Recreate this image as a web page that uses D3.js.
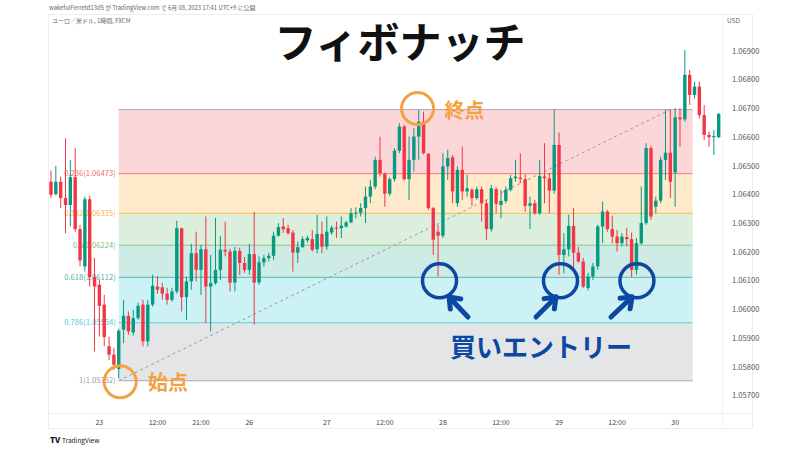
<!DOCTYPE html>
<html>
<head>
<meta charset="utf-8">
<script src="https://cdn.jsdelivr.net/npm/d3@7"></script>
<style>
  body { margin: 0; background: #fff; }
  svg { display: block; font-family: "Noto Sans CJK JP", "Noto Sans", sans-serif; }
</style>
</head>
<body>
<svg width="800" height="450"></svg>
<script>
// EUR/USD 1h candles
const opens = [1.06445,1.06402,1.06445,1.06388,1.06364,1.06461,1.06280,1.06150,1.06384,1.06113,
  1.06086,1.06017,1.05872,1.05843,1.05793,1.05930,1.05978,1.05920,1.05970,1.06017,
  1.05889,1.06017,1.06080,1.06077,1.06055,1.06034,1.06063,1.06283,1.06043,1.06098,
  1.06196,1.06138,1.06210,1.06080,1.06092,1.06138,1.06208,1.06202,1.06094,1.06204,
  1.06162,1.06138,1.06193,1.06094,1.06164,1.06179,1.06187,1.06257,1.06289,1.06283,
  1.06268,1.06198,1.06217,1.06241,1.06245,1.06210,1.06263,1.06219,1.06268,1.06285,
  1.06283,1.06289,1.06303,1.06335,1.06337,1.06353,1.06393,1.06428,1.06521,1.06472,
  1.06403,1.06454,1.06553,1.06637,1.06454,1.06521,1.06602,1.06654,1.06542,1.06353,
  1.06271,1.06257,1.06498,1.06530,1.06370,1.06486,1.06411,1.06417,1.06388,1.06419,
  1.06370,1.06280,1.06419,1.06364,1.06378,1.06417,1.06457,1.06459,1.06454,1.06361,
  1.06370,1.06335,1.06463,1.06457,1.06414,1.06573,1.06190,1.06210,1.06291,1.06198,
  1.06167,1.06075,1.06115,1.06150,1.06289,1.06341,1.06280,1.06254,1.06231,1.06252,
  1.06245,1.06138,1.06231,1.06301,1.06562,1.06358,1.06379,1.06521,1.06546,1.06477,
  1.06669,1.06662,1.06817,1.06747,1.06776,1.06677,1.06608,1.06600,1.06600];
const highs = [1.06484,1.06500,1.06463,1.06596,1.06521,1.06562,1.06295,1.06393,1.06396,1.06179,
  1.06103,1.06051,1.05906,1.05867,1.05933,1.06034,1.05993,1.05999,1.06024,1.06034,
  1.06034,1.06121,1.06117,1.06093,1.06076,1.06076,1.06309,1.06285,1.06115,1.06229,
  1.06271,1.06225,1.06324,1.06190,1.06319,1.06257,1.06306,1.06211,1.06218,1.06215,
  1.06183,1.06229,1.06340,1.06185,1.06190,1.06197,1.06271,1.06301,1.06319,1.06295,
  1.06277,1.06237,1.06254,1.06257,1.06277,1.06330,1.06306,1.06324,1.06292,1.06306,
  1.06324,1.06309,1.06353,1.06356,1.06370,1.06428,1.06451,1.06532,1.06602,1.06477,
  1.06461,1.06562,1.06649,1.06643,1.06602,1.06631,1.06695,1.06689,1.06545,1.06358,
  1.06295,1.06544,1.06556,1.06538,1.06498,1.06567,1.06469,1.06422,1.06428,1.06428,
  1.06382,1.06434,1.06426,1.06417,1.06428,1.06469,1.06521,1.06544,1.06472,1.06393,
  1.06382,1.06521,1.06579,1.06475,1.06697,1.06616,1.06266,1.06330,1.06353,1.06218,
  1.06180,1.06128,1.06162,1.06295,1.06376,1.06347,1.06326,1.06277,1.06266,1.06283,
  1.06268,1.06249,1.06428,1.06579,1.06570,1.06393,1.06532,1.06695,1.06695,1.06701,
  1.06701,1.06903,1.06834,1.06793,1.06793,1.06712,1.06619,1.06625,1.06684];
const lows = [1.06388,1.06397,1.06353,1.06266,1.06289,1.06271,1.06150,1.06132,1.06080,1.05854,
  1.05906,1.05872,1.05825,1.05790,1.05760,1.05883,1.05912,1.05909,1.05964,1.05872,
  1.05872,1.06010,1.06055,1.06034,1.06017,1.06027,1.06055,1.05993,1.05964,1.06069,
  1.06098,1.06051,1.05953,1.05924,1.06086,1.06103,1.06185,1.06063,1.06063,1.06121,
  1.06128,1.06121,1.05947,1.06086,1.06149,1.06168,1.06173,1.06254,1.06267,1.06260,
  1.06132,1.06162,1.06215,1.06233,1.06201,1.06196,1.06196,1.06208,1.06260,1.06249,
  1.06249,1.06285,1.06301,1.06318,1.06324,1.06301,1.06370,1.06419,1.06463,1.06358,
  1.06396,1.06445,1.06544,1.06449,1.06382,1.06480,1.06521,1.06540,1.06347,1.06190,
  1.06115,1.06249,1.06451,1.06370,1.06358,1.06382,1.06393,1.06361,1.06382,1.06306,
  1.06243,1.06271,1.06335,1.06318,1.06370,1.06411,1.06445,1.06440,1.06341,1.06280,
  1.06330,1.06330,1.06370,1.06335,1.06403,1.06121,1.06127,1.06185,1.06144,1.06163,
  1.06075,1.06066,1.06103,1.06138,1.06231,1.06271,1.06231,1.06202,1.06219,1.06219,
  1.06113,1.06121,1.06225,1.06295,1.06312,1.06335,1.06370,1.06451,1.06388,1.06358,
  1.06567,1.06654,1.06712,1.06735,1.06666,1.06590,1.06567,1.06538,1.06597];
const closes = [1.06399,1.06445,1.06388,1.06364,1.06461,1.06280,1.06171,1.06384,1.06113,1.06080,
  1.06013,1.05904,1.05843,1.05808,1.05926,1.05978,1.05924,1.05970,1.06013,1.05889,
  1.06017,1.06083,1.06069,1.06055,1.06034,1.06063,1.06283,1.06043,1.06098,1.06196,
  1.06138,1.06210,1.06080,1.06092,1.06138,1.06208,1.06202,1.06094,1.06204,1.06162,
  1.06138,1.06193,1.06094,1.06164,1.06179,1.06187,1.06257,1.06287,1.06280,1.06266,
  1.06198,1.06217,1.06245,1.06249,1.06208,1.06263,1.06219,1.06271,1.06285,1.06282,
  1.06292,1.06303,1.06335,1.06337,1.06353,1.06393,1.06428,1.06521,1.06475,1.06403,
  1.06454,1.06553,1.06637,1.06454,1.06521,1.06602,1.06654,1.06544,1.06353,1.06243,
  1.06257,1.06498,1.06527,1.06411,1.06486,1.06411,1.06422,1.06388,1.06419,1.06370,
  1.06280,1.06422,1.06368,1.06378,1.06417,1.06457,1.06463,1.06454,1.06361,1.06370,
  1.06335,1.06465,1.06457,1.06414,1.06573,1.06190,1.06210,1.06291,1.06198,1.06167,
  1.06080,1.06115,1.06150,1.06289,1.06341,1.06280,1.06254,1.06231,1.06254,1.06245,
  1.06138,1.06231,1.06301,1.06562,1.06324,1.06379,1.06521,1.06546,1.06445,1.06669,
  1.06662,1.06817,1.06747,1.06776,1.06677,1.06608,1.06600,1.06604,1.06681];

// time axis (bar index -> label)
const timeTickIdx = [10, 22, 31, 41, 57, 69, 81, 93, 105, 117, 129];
const timeTickLabels = ["23", "12:00", "21:00", "26", "27", "12:00", "28", "12:00", "29", "12:00", "30"];

// price axis
const priceTicks = [1.069, 1.068, 1.067, 1.066, 1.065, 1.064, 1.063, 1.062, 1.061, 1.060, 1.059, 1.058, 1.057];

// fibonacci retracement
const fibLevels = [0, 0.236, 0.382, 0.5, 0.618, 0.786, 1];
const fibPrices = [1.06696, 1.06473, 1.06335, 1.06224, 1.06112, 1.05954, 1.05752];
const fibColors = ["#787b86", "#f23645", "#ff9800", "#4caf50", "#089981", "#00bcd4", "#787b86"];
const fibStartIdx = 14;
const fibEndIdx = 132.6;
const trendFrom = [14, 1.05752];
const trendTo = [128, 1.06696];

// annotated bars
const startIdx = 14.3, endIdx = 77;
const buyIdx = [80.3, 105.3, 121.1];
const buyPrice = 1.06100;

const svg = d3.select("svg");
const x = d3.scaleLinear().domain([0, 138]).range([51, 718.7]);
const y = d3.scaleLinear().domain([1.057, 1.069]).range([395.7, 51]);

const up = "#089981", down = "#f23645";
const orange = "#f5a142", blue = "#0c47a4";

// frame of the screenshot
svg.append("rect").attr("x", 48.5).attr("y", 14.5).attr("width", 704).attr("height", 414)
    .attr("fill", "none").attr("stroke", "#eeeeee");
svg.append("line").attr("x1", 48).attr("x2", 752).attr("y1", 413.5).attr("y2", 413.5)
    .attr("stroke", "#eeeeee");
svg.append("line").attr("x1", 722.5).attr("x2", 722.5).attr("y1", 15).attr("y2", 428)
    .attr("stroke", "#f4f4f4");

// header
svg.append("text").attr("x", 49).attr("y", 10).attr("font-size", 5.9).attr("fill", "#666")
    .text("wakefulFerretd13d5 が TradingView.com で 6月 08, 2023 17:41 UTC+9 に公開");
svg.append("text").attr("x", 52).attr("y", 23).attr("font-size", 6).attr("fill", "#666")
    .text("ユーロ／米ドル, 1時間, FXCM");
svg.append("text").attr("x", 727).attr("y", 23).attr("font-size", 6.5).attr("fill", "#666")
    .text("USD");

// fib bands
const fx0 = x(fibStartIdx), fx1 = x(fibEndIdx);
for (let i = 0; i < fibLevels.length - 1; i++) {
    svg.append("rect")
        .attr("x", fx0).attr("width", fx1 - fx0)
        .attr("y", y(fibPrices[i])).attr("height", y(fibPrices[i + 1]) - y(fibPrices[i]))
        .attr("fill", fibColors[i + 1]).attr("fill-opacity", 0.2);
}
fibPrices.forEach((p, i) => {
    svg.append("line")
        .attr("x1", fx0).attr("x2", fx1).attr("y1", y(p)).attr("y2", y(p))
        .attr("stroke", fibColors[i]).attr("stroke-opacity", 0.6).attr("stroke-width", 1);
    if (i > 0) {
        svg.append("text")
            .attr("x", fx0 - 3).attr("y", y(p)).attr("dy", "0.35em")
            .attr("text-anchor", "end").attr("font-size", 7.6)
            .attr("fill", fibColors[i]).attr("fill-opacity", 0.8)
            .text(`${fibLevels[i]}(${p.toFixed(5)})`);
    }
});

// dashed trend line
svg.append("line")
    .attr("x1", x(trendFrom[0])).attr("y1", y(trendFrom[1]))
    .attr("x2", x(trendTo[0])).attr("y2", y(trendTo[1]))
    .attr("stroke", "#9a9ca4").attr("stroke-width", 1).attr("stroke-dasharray", "3,3");

// candles
const bars = d3.range(opens.length).map(i => ({i, o: opens[i], h: highs[i], l: lows[i], c: closes[i]}));
const bw = 3.4;
const g = svg.append("g");
g.selectAll("line.wick").data(bars).join("line")
    .attr("x1", d => x(d.i)).attr("x2", d => x(d.i))
    .attr("y1", d => y(d.h)).attr("y2", d => y(d.l))
    .attr("stroke", d => d.c >= d.o ? up : down).attr("stroke-width", 1);
g.selectAll("rect.body").data(bars).join("rect")
    .attr("x", d => x(d.i) - bw / 2).attr("width", bw)
    .attr("y", d => y(Math.max(d.o, d.c)))
    .attr("height", d => Math.max(1, Math.abs(y(d.o) - y(d.c))))
    .attr("fill", d => d.c >= d.o ? up : down);

// price axis labels
priceTicks.forEach(p => {
    svg.append("text").attr("x", 732).attr("y", y(p)).attr("dy", "0.35em")
        .attr("font-size", 7.6).attr("fill", "#555").text(p.toFixed(5));
});

// time axis labels
timeTickIdx.forEach((t, k) => {
    svg.append("text").attr("x", x(t)).attr("y", 425).attr("text-anchor", "middle")
        .attr("font-size", 7).attr("fill", "#444").text(timeTickLabels[k]);
});

// TradingView mark
svg.append("text").attr("x", 50).attr("y", 443).attr("font-size", 8).attr("font-weight", 900)
    .attr("fill", "#131722").text("TV");
svg.append("text").attr("x", 62).attr("y", 443).attr("font-size", 6.5).attr("fill", "#131722")
    .text("TradingView");

// title
svg.append("text").attr("x", 400).attr("y", 58).attr("text-anchor", "middle")
    .attr("font-size", 42).attr("font-weight", 700).attr("fill", "#111").text("フィボナッチ");

// start / end markers
function ring(cx, cy, r, color, w) {
    svg.append("circle").attr("cx", cx).attr("cy", cy).attr("r", r)
        .attr("fill", "none").attr("stroke", color).attr("stroke-width", w);
}
ring(x(startIdx), y(fibPrices[6]) + 1, 16, orange, 3);
svg.append("text").attr("x", 148).attr("y", y(fibPrices[6]) + 9)
    .attr("font-size", 20).attr("font-weight", 700).attr("fill", orange).text("始点");
ring(x(endIdx) - 6, y(fibPrices[0]) - 1, 16, orange, 3);
svg.append("text").attr("x", x(endIdx) + 21).attr("y", y(fibPrices[0]) + 8)
    .attr("font-size", 20).attr("font-weight", 700).attr("fill", orange).text("終点");

// buy entry markers
buyIdx.forEach(b => ring(x(b), y(buyPrice), 17, blue, 3.5));

function arrow(x1, y1, x2, y2) {
    const ang = Math.atan2(y2 - y1, x2 - x1);
    const len = 12, spread = 0.65;
    svg.append("line").attr("x1", x1).attr("y1", y1).attr("x2", x2).attr("y2", y2)
        .attr("stroke", blue).attr("stroke-width", 5).attr("stroke-linecap", "round");
    const p = d3.path();
    p.moveTo(x2 - len * Math.cos(ang - spread), y2 - len * Math.sin(ang - spread));
    p.lineTo(x2, y2);
    p.lineTo(x2 - len * Math.cos(ang + spread), y2 - len * Math.sin(ang + spread));
    svg.append("path").attr("d", p.toString()).attr("fill", "none").attr("stroke", blue)
        .attr("stroke-width", 5).attr("stroke-linecap", "round").attr("stroke-linejoin", "round");
}
arrow(468, 317, 449, 297);
arrow(536, 317, 556, 297);
arrow(611, 317, 632, 297);

svg.append("text").attr("x", 450).attr("y", 357)
    .attr("font-size", 26).attr("font-weight", 700).attr("fill", blue).text("買いエントリー");
</script>
</body>
</html>
